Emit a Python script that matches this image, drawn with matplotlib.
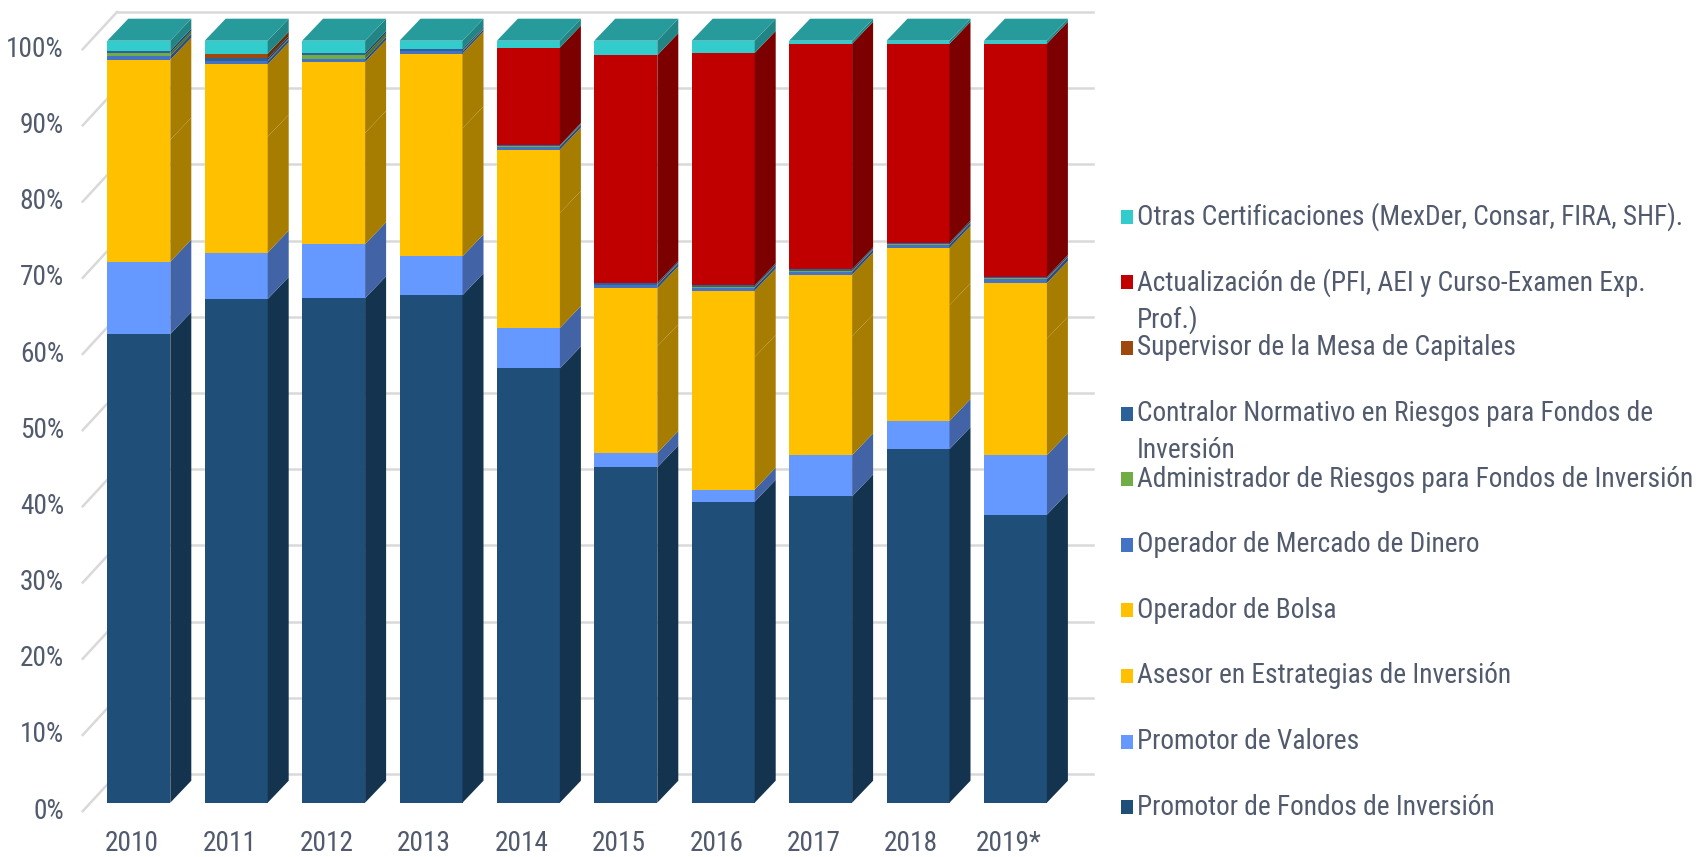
import os
import matplotlib.pyplot as plt
from matplotlib.patches import Polygon, Rectangle
from matplotlib import font_manager as fm
import matplotlib.colors as mcolors
import numpy as np

years = ["2010", "2011", "2012", "2013", "2014", "2015", "2016", "2017", "2018", "2019*"]

# shares per certification (percent of each year)
fondos = [61.5, 66.1, 66.2, 66.6, 57.0, 44.0, 39.5, 40.2, 46.4, 37.8]
valores = [9.5, 6.1, 7.1, 5.1, 5.3, 1.9, 1.6, 5.4, 3.7, 7.8]
asesor = [16.0, 15.2, 14.6, 16.8, 15.1, 14.0, 17.4, 15.6, 15.2, 15.3]
bolsa = [10.5, 9.5, 9.3, 9.8, 8.3, 7.6, 8.7, 8.1, 7.5, 7.3]
mercado = [0.5, 0.4, 0.4, 0.3, 0.4, 0.4, 0.4, 0.4, 0.4, 0.5]
admin = [0.4, 0.1, 0.5, 0.1, 0.1, 0.1, 0.1, 0.1, 0.1, 0.1]
contralor = [0.3, 0.3, 0.3, 0.2, 0.1, 0.2, 0.2, 0.2, 0.2, 0.2]
supervisor = [0.0, 0.6, 0.0, 0.0, 0.0, 0.0, 0.0, 0.0, 0.0, 0.0]
actualizacion = [0.0, 0.0, 0.0, 0.0, 12.8, 29.9, 30.5, 29.6, 26.1, 30.6]
otras = [1.3, 1.7, 1.6, 1.1, 0.9, 1.9, 1.6, 0.4, 0.4, 0.4]

# bottom to top
series = [
    ("Promotor de Fondos de Inversión", fondos, "#1F4E79"),
    ("Promotor de Valores", valores, "#6699FF"),
    ("Asesor en Estrategias de Inversión", asesor, "#FFC000"),
    ("Operador de Bolsa", bolsa, "#FFC000"),
    ("Operador de Mercado de Dinero", mercado, "#4472C4"),
    ("Administrador de Riesgos para Fondos de Inversión", admin, "#70AD47"),
    ("Contralor Normativo en Riesgos para Fondos de\nInversión", contralor, "#2B6198"),
    ("Supervisor de la Mesa de Capitales", supervisor, "#9E480E"),
    ("Actualización de (PFI, AEI y Curso-Examen Exp.\nProf.)", actualizacion, "#C00000"),
    ("Otras Certificaciones (MexDer, Consar, FIRA, SHF).", otras, "#33CCCC"),
]

# pick a narrow sans if one is installed, else Liberation Sans
font_path = None
bad = ("Bold", "Italic", "Oblique", "Light", "Medium", "Black", "Thin", "SemiBold", "ExtraBold")
files = [f.fname for f in fm.fontManager.ttflist]
for key in ("LiberationSansNarrow-Regular", "ArialNarrow", "RobotoCondensed-Regular",
            "NotoSans-Condensed", "OpenSans_Condensed-Regular", "OpenSansCondensed",
            "DejaVuSansCondensed.ttf", "Narrow", "Condensed"):
    hits = [p for p in files if key in os.path.basename(p)
            and not any(b in os.path.basename(p) for b in bad)]
    if hits:
        font_path = sorted(hits, key=len)[0]
        break
if font_path:
    fp = fm.FontProperties(fname=font_path)
else:
    fp = fm.FontProperties(family="Liberation Sans")

TXT = "#515B6D"
W, H = 1703, 857
fig = plt.figure(figsize=(W / 100, H / 100), dpi=100)
ax = fig.add_axes([0, 0, 1, 1])

# fit font size so the widest legend line spans ~558 px as in the reference
rend = fig.canvas.get_renderer()
widest = 0
for s in series:
    for line in s[0].split("\n"):
        probe = fig.text(0, 0, line, fontproperties=fp, fontsize=20)
        widest = max(widest, probe.get_window_extent(rend).width)
        probe.remove()
FS = min(21.0, 20 * 556.0 / widest)

# pixel -> data mapping
PX_X, X0 = 97.4, 138.8
PX_Y, Y0 = 7.62, 802.7
ax.set_xlim(-X0 / PX_X, (W - X0) / PX_X)
ax.set_ylim((Y0 - H) / PX_Y, Y0 / PX_Y)
ax.axis('off')

def shade(c, f):
    r, g, b = mcolors.to_rgb(c)
    return (r * f, g * f, b * f)

bw = 63 / PX_X
ddx = 21 / PX_X
ddy = 22 / PX_Y

# back wall grid + left diagonals
back_dy = 28.7 / PX_Y
lab_dy = 8.5 / PX_Y
gx0 = (117 - X0) / PX_X
gx1 = (1093 - X0) / PX_X
fx0 = (82.7 - X0) / PX_X
for p in range(0, 101, 10):
    ax.plot([gx0, gx1], [p + back_dy, p + back_dy], color="#D9D9D9", lw=1.8, zorder=0)
    ax.plot([fx0, gx0], [p - lab_dy, p + back_dy], color="#D9D9D9", lw=1.8, zorder=0)
    ax.text((64 - X0) / PX_X, p - lab_dy, f"{p}%", ha="right", va="center",
            fontproperties=fp, fontsize=FS, color=TXT)

totals = np.sum([s[1] for s in series], axis=0)
x = np.arange(len(years))
bottom = np.zeros(len(years))
for label, vals, col in series:
    v = np.array(vals) * 100.0 / totals
    ax.bar(x, v, bottom=bottom, width=bw, color=col, linewidth=0, zorder=2)
    for i in range(len(years)):
        if v[i] <= 0:
            continue
        xr = x[i] + bw / 2
        b, t = bottom[i], bottom[i] + v[i]
        ax.add_patch(Polygon([(xr, b), (xr + ddx, b + ddy), (xr + ddx, t + ddy), (xr, t)],
                             closed=True, facecolor=shade(col, 0.65), linewidth=0, zorder=2))
    bottom = bottom + v

top_col = series[-1][2]
for i in range(len(years)):
    xl, xr, t = x[i] - bw / 2, x[i] + bw / 2, bottom[i]
    ax.add_patch(Polygon([(xl, t), (xr, t), (xr + ddx, t + ddy), (xl + ddx, t + ddy)],
                         closed=True, facecolor=shade(top_col, 0.76), linewidth=0, zorder=2))
    ax.text(x[i] - 0.07, -5.4, years[i], ha="center", va="center",
            fontproperties=fp, fontsize=FS, color=TXT)

# legend (top entry = last series)
ly0, lstep = 216.7, 65.6
for k, (label, vals, col) in enumerate(reversed(series)):
    yc = ly0 + k * lstep
    fig.patches.append(Rectangle((1121 / W, 1 - (yc + 7) / H), 12 / W, 14 / H,
                                 transform=fig.transFigure, facecolor=col, linewidth=0))
    for j, line in enumerate(label.split("\n")):
        fig.text(1137 / W, 1 - (yc + 37 * j) / H, line, ha="left", va="center",
                 fontproperties=fp, fontsize=FS, color=TXT)

fig.savefig("out.png", dpi=100)
